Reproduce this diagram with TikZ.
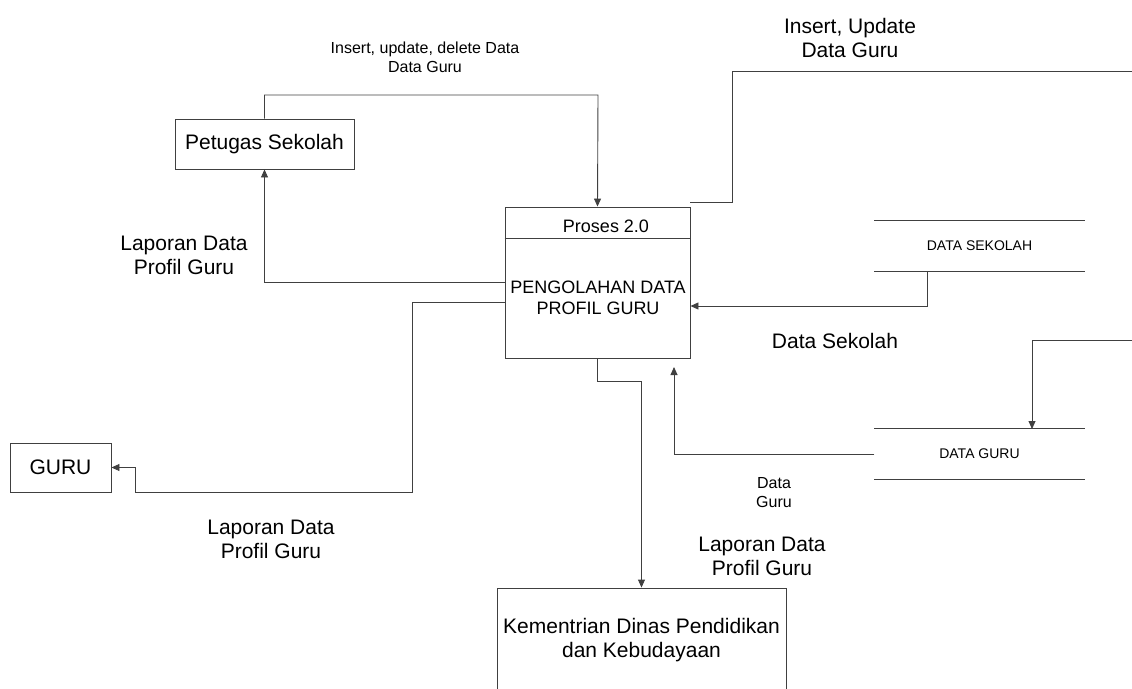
\documentclass[tikz,border=0pt]{standalone}
\usepackage{fontspec}
\setmainfont{Liberation Sans}
\usetikzlibrary{arrows.meta}
\begin{document}
\begin{tikzpicture}[x=1pt,y=-1pt,
  ln/.style={draw=black!75,line width=0.9pt},
  arr/.style={ln,-{Triangle[length=8pt,width=7pt]}},
  box/.style={draw=black!75,line width=0.9pt,rectangle,inner sep=0pt},
  big/.style={font=\fontsize{21}{24}\selectfont,align=center},
  mid/.style={font=\fontsize{18}{21}\selectfont,align=center},
  sml/.style={font=\fontsize{16}{19}\selectfont,align=center},
  tiny/.style={font=\fontsize{14}{16}\selectfont,align=center},
  store/.style={rectangle,minimum width=210pt,minimum height=50pt,inner sep=0pt}]
\useasboundingbox (0,0) rectangle (1132,688);
% boxes
\node[box,big,minimum width=179pt,minimum height=50pt] (pet) at (264.5,144) {Petugas Sekolah};
\node[box,big,minimum width=101pt,minimum height=49pt] (guru) at (60.5,467.5) {GURU};
\node[box,minimum width=185pt,minimum height=151pt] (proc) at (597.5,282.5) {};
\draw[ln] ([yshift=-32pt]proc.north west) -- ([yshift=-32pt]proc.north east);
\node[mid,anchor=base] (proct) at (606,232) {Proses 2.0};
\node[mid] (procn) at (598,298) {PENGOLAHAN DATA\\PROFIL GURU};
\node[box,big,minimum width=289pt,minimum height=104pt] (kem) at (641.5,640) {Kementrian Dinas Pendidikan\\dan Kebudayaan};
% stores
\node[store,tiny] (ds) at (979.5,246) {DATA SEKOLAH};
\draw[ln] (ds.north west) -- (ds.north east);
\draw[ln] (ds.south west) -- (ds.south east);
\node[store,tiny] (dg) at (979.5,454) {DATA GURU};
\draw[ln] (dg.north west) -- (dg.north east);
\draw[ln] (dg.south west) -- (dg.south east);
% coordinates
\coordinate (c1) at (598,95);
\coordinate (c2) at (412,302);
\coordinate (c3) at (135,492);
\coordinate (c4) at (674,367);
\coordinate (c5) at (1132,340);
\coordinate (c6) at (1032,429);
\coordinate (c7) at (927,306);
\coordinate (c8) at (690,202);
\coordinate (c9) at (732,202);
\coordinate (c10) at (1132,71);
% connectors
\draw[arr] (pet.north) |- (c1) -- (proc.north);
\draw[arr] (proc.west) -| (pet.south);
\draw[arr] ([yshift=-19.5pt]proc.west) -- (c2) |- (c3) |- (guru.east);
\draw[arr] (proc.south) -- ++(0,23) -| (kem.north);
\draw[arr] (dg.west) -| (c4);
\draw[arr] (c5) -| (c6);
\draw[arr] (ds.south -| c7) |- (c7 -| proc.east);
\draw[ln] (c8) -- (c9) |- (c10);
% labels (base = baseline of the last line)
\node[sml,anchor=base] (l1) at (425,72) {Insert, update, delete Data\\Data Guru};
\node[big,anchor=base] (l2) at (850,57) {Insert, Update\\Data Guru};
\node[big,anchor=base] (l3) at (184,274) {Laporan Data\\Profil Guru};
\node[big,anchor=base] (l4) at (271,558) {Laporan Data\\Profil Guru};
\node[big,anchor=base] (l5) at (762,575) {Laporan Data\\Profil Guru};
\node[big,anchor=base] (l6) at (835,348) {Data Sekolah};
\node[sml,anchor=base] (l7) at (774,507) {Data\\Guru};
\end{tikzpicture}
\end{document}
